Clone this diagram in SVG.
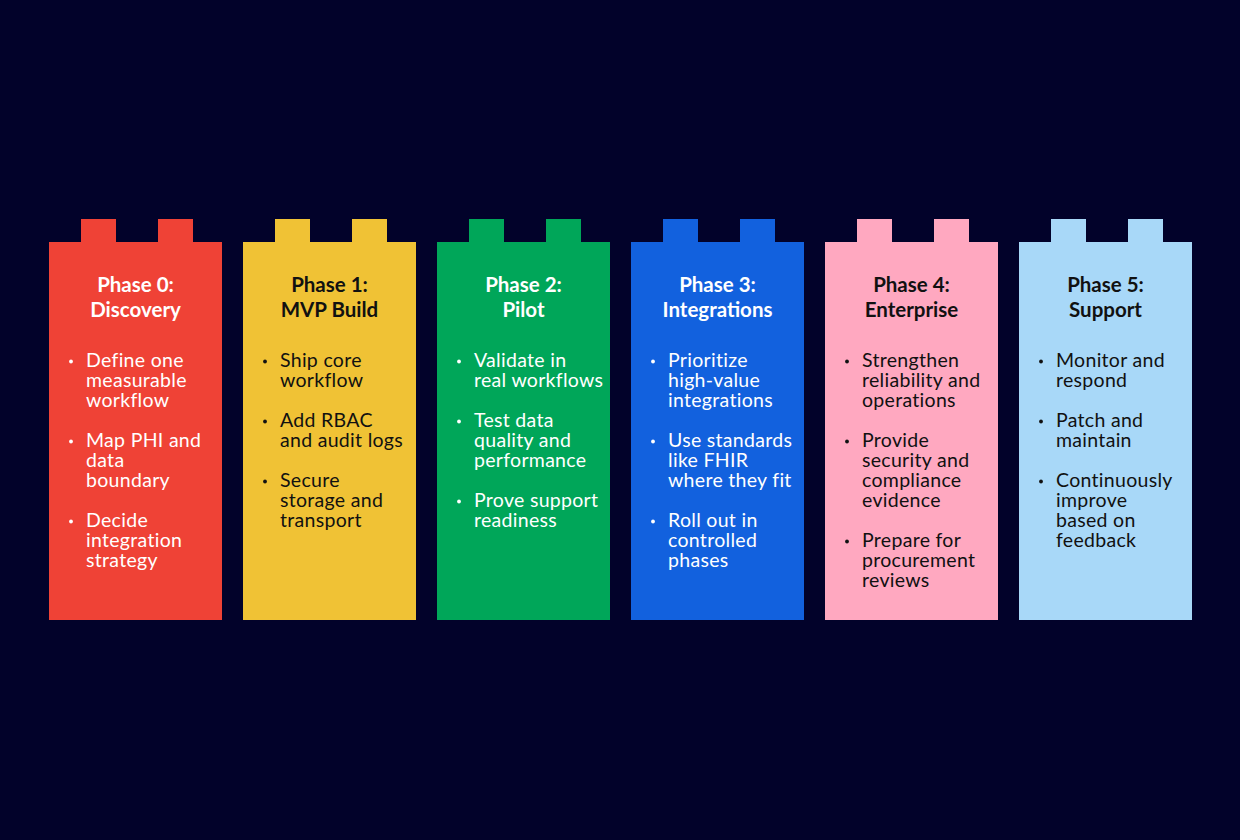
<svg xmlns="http://www.w3.org/2000/svg" width="1240" height="840" viewBox="0 0 1240 840">
<style>
.t{font-family:"Lato","Noto Sans",sans-serif;font-weight:700;font-size:20.5px;text-anchor:middle}
.b{font-family:"Lato","Noto Sans",sans-serif;font-weight:400;font-size:19.5px;letter-spacing:0.3px}
.w{fill:#ffffff}
.k{fill:#111111}
</style>
<defs>
<path id="brick" d="M0 23 H32 V0 H67 V23 H109 V0 H144 V23 H173 V401 H0 Z"/>
<circle id="dot" r="1.9"/>
</defs>
<rect width="1240" height="840" fill="#02022a"/>
<g id="phase0" transform="translate(49,219)">
<use href="#brick" fill="#ef4236"/>
<text class="t w" x="86.5" y="73">Phase 0:</text>
<text class="t w" x="86.5" y="98">Discovery</text>
<g class="b w">
<use href="#dot" x="22" y="142.5"/><text x="37" y="148">Define one</text><text x="37" y="168">measurable</text><text x="37" y="188">workflow</text>
<use href="#dot" x="22" y="222.5"/><text x="37" y="228">Map PHI and</text><text x="37" y="248">data</text><text x="37" y="268">boundary</text>
<use href="#dot" x="22" y="302.5"/><text x="37" y="308">Decide</text><text x="37" y="328">integration</text><text x="37" y="348">strategy</text>
</g>
</g>
<g id="phase1" transform="translate(243,219)">
<use href="#brick" fill="#f0c235"/>
<text class="t k" x="86.5" y="73">Phase 1:</text>
<text class="t k" x="86.5" y="98">MVP Build</text>
<g class="b k">
<use href="#dot" x="22" y="142.5"/><text x="37" y="148">Ship core</text><text x="37" y="168">workflow</text>
<use href="#dot" x="22" y="202.5"/><text x="37" y="208">Add RBAC</text><text x="37" y="228">and audit logs</text>
<use href="#dot" x="22" y="262.5"/><text x="37" y="268">Secure</text><text x="37" y="288">storage and</text><text x="37" y="308">transport</text>
</g>
</g>
<g id="phase2" transform="translate(437,219)">
<use href="#brick" fill="#00a659"/>
<text class="t w" x="86.5" y="73">Phase 2:</text>
<text class="t w" x="86.5" y="98">Pilot</text>
<g class="b w">
<use href="#dot" x="22" y="142.5"/><text x="37" y="148">Validate in</text><text x="37" y="168">real workflows</text>
<use href="#dot" x="22" y="202.5"/><text x="37" y="208">Test data</text><text x="37" y="228">quality and</text><text x="37" y="248">performance</text>
<use href="#dot" x="22" y="282.5"/><text x="37" y="288">Prove support</text><text x="37" y="308">readiness</text>
</g>
</g>
<g id="phase3" transform="translate(631,219)">
<use href="#brick" fill="#1261de"/>
<text class="t w" x="86.5" y="73">Phase 3:</text>
<text class="t w" x="86.5" y="98">Integrations</text>
<g class="b w">
<use href="#dot" x="22" y="142.5"/><text x="37" y="148">Prioritize</text><text x="37" y="168">high-value</text><text x="37" y="188">integrations</text>
<use href="#dot" x="22" y="222.5"/><text x="37" y="228">Use standards</text><text x="37" y="248">like FHIR</text><text x="37" y="268">where they fit</text>
<use href="#dot" x="22" y="302.5"/><text x="37" y="308">Roll out in</text><text x="37" y="328">controlled</text><text x="37" y="348">phases</text>
</g>
</g>
<g id="phase4" transform="translate(825,219)">
<use href="#brick" fill="#ffa8c0"/>
<text class="t k" x="86.5" y="73">Phase 4:</text>
<text class="t k" x="86.5" y="98">Enterprise</text>
<g class="b k">
<use href="#dot" x="22" y="142.5"/><text x="37" y="148">Strengthen</text><text x="37" y="168">reliability and</text><text x="37" y="188">operations</text>
<use href="#dot" x="22" y="222.5"/><text x="37" y="228">Provide</text><text x="37" y="248">security and</text><text x="37" y="268">compliance</text><text x="37" y="288">evidence</text>
<use href="#dot" x="22" y="322.5"/><text x="37" y="328">Prepare for</text><text x="37" y="348">procurement</text><text x="37" y="368">reviews</text>
</g>
</g>
<g id="phase5" transform="translate(1019,219)">
<use href="#brick" fill="#a8d8f8"/>
<text class="t k" x="86.5" y="73">Phase 5:</text>
<text class="t k" x="86.5" y="98">Support</text>
<g class="b k">
<use href="#dot" x="22" y="142.5"/><text x="37" y="148">Monitor and</text><text x="37" y="168">respond</text>
<use href="#dot" x="22" y="202.5"/><text x="37" y="208">Patch and</text><text x="37" y="228">maintain</text>
<use href="#dot" x="22" y="262.5"/><text x="37" y="268">Continuously</text><text x="37" y="288">improve</text><text x="37" y="308">based on</text><text x="37" y="328">feedback</text>
</g>
</g>
<g id="connectors"/>
</svg>
